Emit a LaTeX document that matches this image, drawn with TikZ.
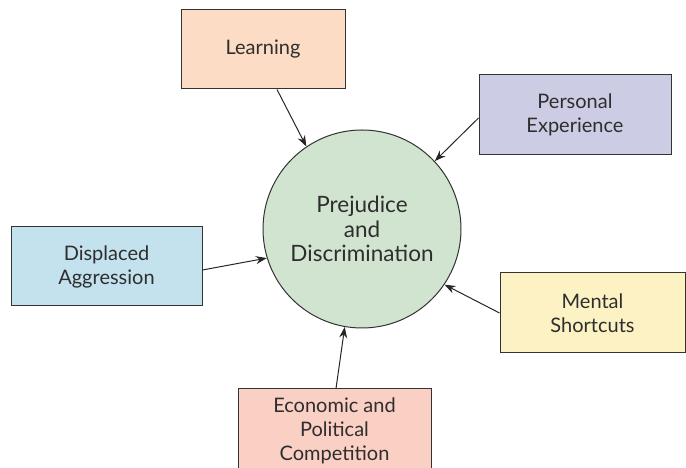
\documentclass[tikz,border=0pt]{standalone}
\usepackage{fontspec}
\setmainfont{Lato}
\usetikzlibrary{arrows.meta}
\definecolor{txt}{HTML}{2E2E2E}
\definecolor{edge}{HTML}{333333}
\definecolor{clearn}{HTML}{FCDCC4}
\definecolor{cpers}{HTML}{CCCCE4}
\definecolor{cdisp}{HTML}{C4E2EE}
\definecolor{cment}{HTML}{FCF2C4}
\definecolor{cecon}{HTML}{FAD0C4}
\definecolor{ccirc}{HTML}{D0E4D0}
\tikzset{
  factor/.style={draw=edge, line width=1pt, rectangle, inner sep=0pt, align=center,
    text=txt, font=\fontsize{20}{24}\selectfont},
  hub/.style={draw=edge, line width=1pt, circle, fill=ccirc, inner sep=0pt,
    minimum size=198pt, align=center, text=txt, font=\fontsize{22.5}{24.5}\selectfont},
  link/.style={draw=black!85, line width=1pt, -{Stealth[length=11pt,width=8pt]}}
}
\begin{document}
\begin{tikzpicture}[x=1pt,y=1pt]
\useasboundingbox (0,0) rectangle (686,468);
\clip (0,0) rectangle (686,468);
\node[hub] (circ) at (362,239) {Prejudice\\and\\Discrimination};
\node[factor, fill=clearn, minimum width=164pt, minimum height=79pt] (learn) at (263,418.5) {Learning};
\node[factor, fill=cpers, minimum width=192pt, minimum height=80pt] (pers) at (575,353) {Personal\\Experience};
\node[factor, fill=cdisp, minimum width=191pt, minimum height=79pt] (disp) at (106.5,201.5) {Displaced\\Aggression};
\node[factor, fill=cment, minimum width=185pt, minimum height=80pt] (ment) at (592.5,155) {Mental\\Shortcuts};
\node[factor, fill=cecon, minimum width=193pt, minimum height=83pt] (econ) at (334.5,37.5) {Economic and\\Political\\Competition};
\draw[link] ([xshift=14pt]learn.south) -- (circ.124);
\draw[link] ([yshift=-3pt]pers.west) -- (circ.43);
\draw[link] ([yshift=-3.5pt]disp.east) -- (circ.197);
\draw[link] (ment.west) -- (circ.-34);
\draw[link] ([xshift=1.5pt]econ.north) -- (circ.260);
\end{tikzpicture}
\end{document}
